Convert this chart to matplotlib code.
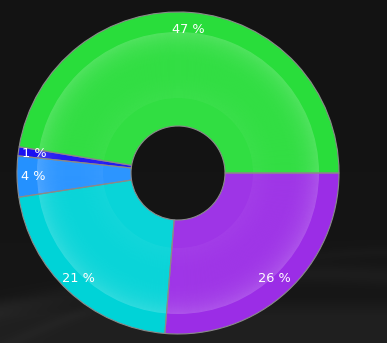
import numpy as np
import matplotlib
matplotlib.use("Agg")
import matplotlib.pyplot as plt
from matplotlib.patches import Wedge

# Data
labels = ["47 %", "1 %", "4 %", "21 %", "26 %"]
values = [47.4, 0.9, 4.1, 21.3, 26.3]
colors = ["#29dd3b", "#1a10f2", "#2491ff", "#00d3d7", "#9b2de6"]

W, H = 387, 343
fig = plt.figure(figsize=(W / 100, H / 100), dpi=100)
fig.patch.set_facecolor("#151515")
ax = fig.add_axes([0, 0, 1, 1])

# Background (dark, subtle lighter swooshes at bottom)
yy, xx = np.mgrid[0:H, 0:W]
bg = 19 + 4 * (yy / H) ** 2
band1 = np.exp(-((yy - (300 - 0.12 * xx + 0.0004 * (xx - 150) ** 2)) / 10.0) ** 2) * 7
band2 = np.exp(-((yy - (250 - 0.18 * xx + 0.0006 * (xx - 250) ** 2 + 60)) / 6.0) ** 2) * 4
bottom = np.clip((yy - 295) / 20.0, 0, 1) * 9
bg = bg + band1 + band2 + bottom
img = np.dstack([bg, bg, bg]).clip(0, 255) / 255.0
ax.imshow(img, extent=(0, W, 0, H), origin="upper", zorder=0, aspect="auto")

cx, cy = 178, H - 173
R_out, R_in = 161, 47

ax.pie(values, colors=colors, startangle=0, counterclock=True,
       radius=R_out, center=(cx, cy),
       wedgeprops=dict(width=R_out - R_in, edgecolor="none", linewidth=0))

# glass effect overlays
ax.add_patch(Wedge((cx, cy), 75, 0, 360, width=75 - R_in,
                   facecolor="white", alpha=0.04, edgecolor="none", zorder=3))
r_lo, r_hi = 75, 141
n = 66
for i in range(n):
    r0 = r_lo + (r_hi - r_lo) * i / n
    r1 = r_lo + (r_hi - r_lo) * (i + 1) / n
    t = (i + 0.5) / n
    a = 0.02 + 0.06 * (1 - t) ** 2 + 0.17 * t ** 4
    ax.add_patch(Wedge((cx, cy), r1, 0, 360, width=r1 - r0,
                       facecolor="white", alpha=a, edgecolor="none", zorder=3))

# edges on top
wedges, _ = ax.pie(values, colors=["none"] * len(values), startangle=0, counterclock=True,
                   radius=R_out, center=(cx, cy),
                   wedgeprops=dict(width=R_out - R_in, edgecolor="#8a8a8a", linewidth=0.8))
for w in wedges:
    w.set_zorder(4)

# labels
cum = np.cumsum([0] + values)
total = sum(values)
r_lab = 144
for lab, a0, a1 in zip(labels, cum[:-1], cum[1:]):
    mid = np.deg2rad((a0 + a1) / 2 / total * 360)
    ax.text(cx + r_lab * np.cos(mid) - 1, cy + r_lab * np.sin(mid), lab,
            color="white", fontsize=9.3, ha="center", va="center",
            family="DejaVu Sans", zorder=5)

ax.set_xlim(0, W)
ax.set_ylim(0, H)
ax.set_aspect("auto")
ax.axis("off")
fig.savefig("out.png", dpi=100, facecolor=fig.get_facecolor())
